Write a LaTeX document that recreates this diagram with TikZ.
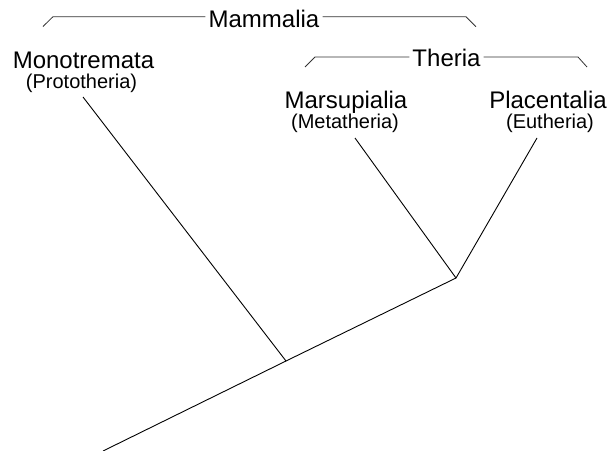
\documentclass[tikz,border=0pt]{standalone}
\usepackage{fontspec}
\setmainfont{Liberation Sans}
\begin{document}
\begin{tikzpicture}[x=1pt,y=-1pt,
  big/.style={font=\fontsize{24}{28}\selectfont, inner sep=0pt, anchor=base},
  small/.style={font=\fontsize{20}{24}\selectfont, inner sep=0pt, anchor=base},
  grp/.style={font=\fontsize{24}{28}\selectfont, inner ysep=0pt, inner xsep=3pt, anchor=base},
  bracket/.style={line width=0.8pt, draw=black!80},
  branch/.style={line width=0.9pt, draw=black}]
\useasboundingbox (0,0) rectangle (607,450);
% labels
\node[grp] (mammalia) at (264,27) {Mammalia};
\node[grp] (theria) at (446.5,66.5) {Theria};
\node[big] (mono) at (83.5,68.5) {Monotremata};
\node[small] (proto) at (81.5,88) {(Prototheria)};
\node[big] (mars) at (346,108.5) {Marsupialia};
\node[small] (meta) at (345,128.5) {(Metatheria)};
\node[big] (plac) at (548,108.5) {Placentalia};
\node[small] (euth) at (550,128.5) {(Eutheria)};
% tree
\coordinate (root) at (103,451);
\coordinate (j1) at (286,361);
\coordinate (j2) at (456,278);
\coordinate (monoEnd) at (83,97);
\coordinate (marsEnd) at (355,138);
\coordinate (placEnd) at (537,138);
\draw[branch] (root) -- (j1) -- (j2) -- (placEnd);
\draw[branch] (j1) -- (monoEnd);
\draw[branch] (j2) -- (marsEnd);
% Mammalia bracket
\coordinate (mamL) at (43,26.5);
\coordinate (mamLc) at (53,16.7);
\coordinate (mamRc) at (466,16.7);
\coordinate (mamR) at (476,26.7);
\draw[bracket] (mamL) -- (mamLc) -- (mamLc -| mammalia.west);
\draw[bracket] (mammalia.east |- mamRc) -- (mamRc) -- (mamR);
% Theria bracket
\coordinate (thL) at (305,67);
\coordinate (thLc) at (315,57);
\coordinate (thRc) at (578,57);
\coordinate (thR) at (587,67);
\draw[bracket] (thL) -- (thLc) -- (thLc -| theria.west);
\draw[bracket] (theria.east |- thRc) -- (thRc) -- (thR);
\end{tikzpicture}
\end{document}
